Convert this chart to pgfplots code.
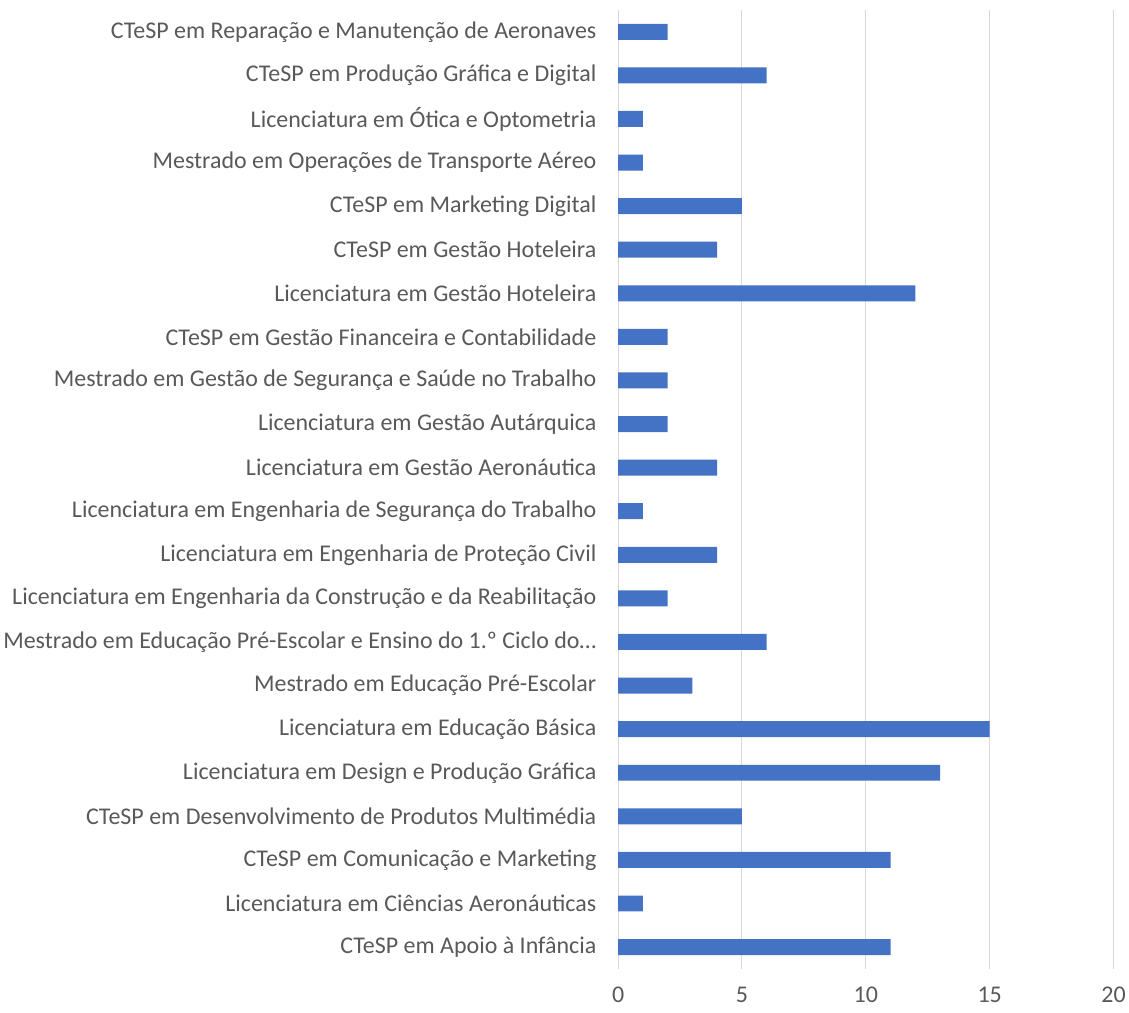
\documentclass[border=0pt]{standalone}
\usepackage{pgfplots}
\pgfplotsset{compat=1.18}
\usepackage{fontspec}
\setmainfont{Carlito}
\definecolor{barblue}{HTML}{4472C4}
\definecolor{txt}{HTML}{595959}
\definecolor{gridc}{HTML}{D9D9D9}
\begin{document}
\begin{tikzpicture}
\begin{axis}[
  scale only axis,
  width=496pt, height=960pt,
  xbar, bar width=16pt,
  xmin=0, xmax=20,
  ymin=-0.5, ymax=21.5,
  xtick={0,5,10,15,20},
  ytick={0,...,21},
  yticklabels={
    CTeSP em Apoio à Infância,
    Licenciatura em Ciências Aeronáuticas,
    CTeSP em Comunicação e Marketing,
    CTeSP em Desenvolvimento de Produtos Multimédia,
    Licenciatura em Design e Produção Gráfica,
    Licenciatura em Educação Básica,
    Mestrado em Educação Pré-Escolar,
    Mestrado em Educação Pré-Escolar e Ensino do 1.º Ciclo do…,
    Licenciatura em Engenharia da Construção e da Reabilitação,
    Licenciatura em Engenharia de Proteção Civil,
    Licenciatura em Engenharia de Segurança do Trabalho,
    Licenciatura em Gestão Aeronáutica,
    Licenciatura em Gestão Autárquica,
    Mestrado em Gestão de Segurança e Saúde no Trabalho,
    CTeSP em Gestão Financeira e Contabilidade,
    Licenciatura em Gestão Hoteleira,
    CTeSP em Gestão Hoteleira,
    CTeSP em Marketing Digital,
    Mestrado em Operações de Transporte Aéreo,
    Licenciatura em Ótica e Optometria,
    CTeSP em Produção Gráfica e Digital,
    CTeSP em Reparação e Manutenção de Aeronaves},
  axis line style={draw=none},
  tick style={draw=none},
  xmajorgrids, major grid style={gridc, line width=1pt},
  ticklabel style={font=\fontsize{24}{28}\selectfont, text=txt},
  /pgf/number format/assume math mode=true,
  yticklabel style={xshift=-14pt},
  xticklabel style={yshift=-15pt},
]
\addplot[fill=barblue, draw=none] coordinates {
(11,0) (1,1) (11,2) (5,3) (13,4) (15,5) (3,6) (6,7) (2,8) (4,9) (1,10)
(4,11) (2,12) (2,13) (2,14) (12,15) (4,16) (5,17) (1,18) (1,19) (6,20) (2,21)
};
\end{axis}
\path (current axis.north) ++(0,10pt);
\path (current axis.south) ++(0,-44pt);
\end{tikzpicture}
\end{document}
